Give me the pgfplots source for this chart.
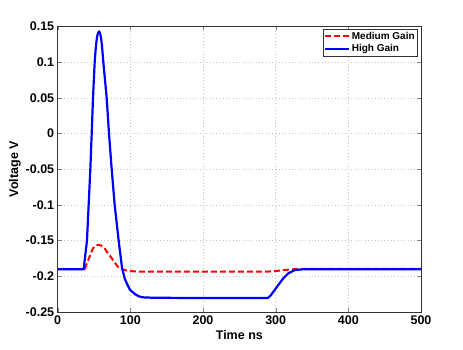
\documentclass[border=0pt]{standalone}
\usepackage{fontspec}
\setmainfont{Liberation Sans}
\usepackage{pgfplots}
\pgfplotsset{compat=1.18}

\begin{document}
\begin{tikzpicture}
\useasboundingbox (-57.7pt,-38pt) rectangle (405.3pt,312pt);
\begin{axis}[at={(0,0)}, anchor=south west, scale only axis,
  width=363.3pt, height=285.6pt,
  xmin=0, xmax=500, ymin=-0.25, ymax=0.15,
  xtick={0,100,...,500},
  ytick={-0.25,-0.2,-0.15,-0.1,-0.05,0,0.05,0.1,0.15},
  yticklabels={-0.25,-0.2,-0.15,-0.1,-0.05,0,0.05,0.1,0.15},
  /pgf/number format/assume math mode=true,
  ticklabel style={font=\bfseries\fontsize{12.5}{12.5}\selectfont},
  tick align=inside, major tick length=4pt,
  xmajorgrids, ymajorgrids,
  major grid style={gray!45, line width=0.4pt, dash pattern=on 0.7pt off 2.6pt},
  axis line style={black!80, line width=0.5pt},
  xlabel={Time ns}, ylabel={Voltage V},
  label style={font=\bfseries\fontsize{12.5}{12.5}\selectfont},
  xlabel style={at={(axis description cs:0.5,-0.08)}, anchor=center},
  ylabel style={at={(axis description cs:-0.118,0.5)}, anchor=center},
  legend style={at={(0.99,0.99)}, anchor=north east, draw=black!80,
    font=\bfseries\fontsize{10}{12}\selectfont, inner sep=1pt,
    row sep=1pt, nodes={inner sep=1.5pt}},
  legend cell align=left,
  legend image code/.code={\draw[#1] (0pt,0pt) -- (24pt,0pt);},
]
\addplot[red, line width=2pt, dash pattern=on 6pt off 3pt, smooth, tension=0.3] coordinates {
(0,-0.19) (36,-0.19) (38,-0.187) (41,-0.18) (44,-0.172) (48.6,-0.161)
(52,-0.1572) (56.4,-0.156) (60,-0.157) (64.7,-0.161) (68,-0.166)
(72.4,-0.172) (76,-0.177) (80.7,-0.184) (85,-0.1885) (90,-0.1905)
(95,-0.192) (104,-0.193) (120,-0.1935) (200,-0.1935) (290,-0.1933)
(300,-0.1926) (310,-0.1915) (320,-0.1905) (330,-0.1898) (345,-0.1896)
(500,-0.1896)};
\addlegendentry{Medium Gain}
\addplot[blue, line width=2.2pt] coordinates {
(0,-0.19) (35.8,-0.19) (38,-0.17) (40.3,-0.15) (42.6,-0.10) (44.9,-0.05)
(46.8,0.0) (48.6,0.05) (50.9,0.10) (52,0.115) (53,0.126) (54,0.134)
(55,0.139) (56,0.1418) (57,0.1426) (58,0.1415) (59,0.1375) (60,0.131)
(61,0.122) (62.8,0.10) (67.4,0.05) (70.6,0.0) (74.3,-0.05)
(78.4,-0.10) (83.9,-0.15) (88.5,-0.188) (92.2,-0.203) (95,-0.2098)
(99.5,-0.219) (106.4,-0.225) (112,-0.2282) (118,-0.2295) (130,-0.230)
(200,-0.2305) (289,-0.2305) (293,-0.227) (296.8,-0.2216) (303.6,-0.2122)
(310.5,-0.2028) (317.4,-0.1958) (326.6,-0.1912) (340,-0.190) (500,-0.190)};
\addlegendentry{High Gain}
\end{axis}
\end{tikzpicture}
\end{document}
